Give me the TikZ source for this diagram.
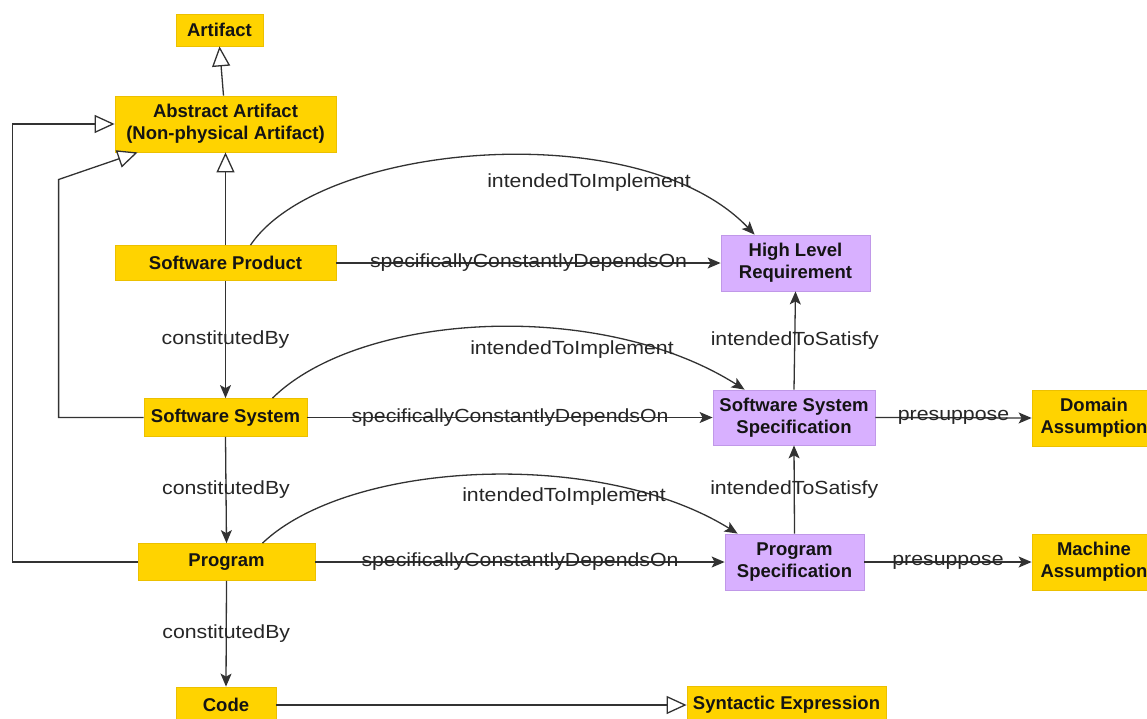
\documentclass[tikz,border=0pt]{standalone}
\usepackage{fontspec}
\setmainfont{Liberation Sans}
\newfontfamily\lblfont[FakeStretch=1.12]{Liberation Sans}
\usetikzlibrary{arrows.meta,calc}
\definecolor{boxyellow}{RGB}{255,211,0}
\definecolor{edgeyellow}{RGB}{236,192,0}
\definecolor{boxviolet}{RGB}{216,176,255}
\definecolor{edgeviolet}{RGB}{192,152,232}
\definecolor{wire}{RGB}{50,50,50}
\begin{document}
\begin{tikzpicture}[x=1pt,y=-1pt,
  concept/.style={draw=edgeyellow, fill=boxyellow, line width=0.8pt, inner sep=0pt,
    align=center, font=\fontsize{18.5}{22}\selectfont\bfseries, text=black!92},
  spec/.style={concept, draw=edgeviolet, fill=boxviolet},
  rel/.style={draw=wire, line width=1.3pt, -{Stealth[length=13pt,width=11pt,inset=3pt]}},
  isa/.style={draw=wire, line width=1.3pt, -{Triangle[open,length=20pt,width=18pt,fill=white]}},
  lbl/.style={font=\lblfont\fontsize{19}{22}\selectfont, text=black!85, inner sep=0pt},
]
\useasboundingbox (0,0) rectangle (1147,718);
\clip (0,0) rectangle (1147,718);

% concepts
\node[concept, minimum width=87pt, minimum height=32pt] (art) at (219.5,30) {Artifact};
\node[concept, minimum width=221pt, minimum height=56pt] (abs) at (225.5,124) {Abstract Artifact\\(Non-physical Artifact)};
\node[concept, minimum width=221pt, minimum height=35pt] (sp) at (225.5,263) {Software Product};
\node[concept, minimum width=163pt, minimum height=38pt] (ss) at (225.5,417.5) {Software System};
\node[concept, minimum width=177pt, minimum height=37pt] (prog) at (226.5,562) {Program};
\node[concept, minimum width=100pt, minimum height=36pt] (code) at (226,705) {Code};
\node[concept, minimum width=199pt, minimum height=38pt] (se) at (786.5,705) {Syntactic Expression};
\node[spec, minimum width=149pt, minimum height=56pt] (hlr) at (795.5,263) {High Level\\Requirement};
\node[spec, minimum width=162pt, minimum height=55pt] (sss) at (794,417.5) {Software System\\Specification};
\node[spec, minimum width=139pt, minimum height=56pt] (ps) at (794.5,562) {Program\\Specification};
\node[concept, minimum width=124pt, minimum height=56pt] (dom) at (1094,418) {Domain\\Assumption};
\node[concept, minimum width=124pt, minimum height=56pt] (mach) at (1094,562) {Machine\\Assumption};

% subsumption
\draw[isa] ($(abs.north)+(-2,0)$) -- (art.south);
\draw[isa] (sp.north) -- (abs.south);
\draw[isa] (prog.west) -- ++(-125,0) |- (abs.west);
\draw[isa] (ss.west) -- ++(-85,0) -- ++(0,-238) -- ($(abs.south west)+(23,0)$);
\draw[isa] (code.east) -- (se.west);

% constitution
\draw[rel] (sp.south) -- node[lbl]{constitutedBy} (ss.north);
\draw[rel] (ss.south) -- node[lbl]{constitutedBy} (prog.north);
\draw[rel] (prog.south) -- node[lbl]{constitutedBy} (code.north);

% dependence
\draw[rel] (sp.east) -- node[lbl]{specificallyConstantlyDependsOn} (hlr.west);
\draw[rel] (ss.east) -- node[lbl]{specificallyConstantlyDependsOn} (sss.west);
\draw[rel] (prog.east) -- node[lbl]{specificallyConstantlyDependsOn} (ps.west);

% satisfaction and presupposition
\draw[rel] (sss.north) -- node[lbl]{intendedToSatisfy} (hlr.south);
\draw[rel] (ps.north) -- node[lbl]{intendedToSatisfy} (sss.south);
\draw[rel] (sss.east) -- node[lbl]{presuppose} (dom.west);
\draw[rel] (ps.east) -- node[lbl]{presuppose} (mach.west);

% implementation arcs
\draw[rel] ($(sp.north)+(25,0)$) .. controls (320,142) and (640,114) .. ($(hlr.north west)+(34,0)$);
\node[lbl] (impl1) at (589,183) {intendedToImplement};
\draw[rel] ($(ss.north)+(47,0)$) .. controls (360,312) and (600,298) .. ($(sss.north west)+(32,0)$);
\node[lbl] (impl2) at (572,350) {intendedToImplement};
\draw[rel] ($(prog.north)+(36,0)$) .. controls (350,460) and (600,448) .. ($(ps.north west)+(13,0)$);
\node[lbl] (impl3) at (564,497) {intendedToImplement};
\end{tikzpicture}
\end{document}
